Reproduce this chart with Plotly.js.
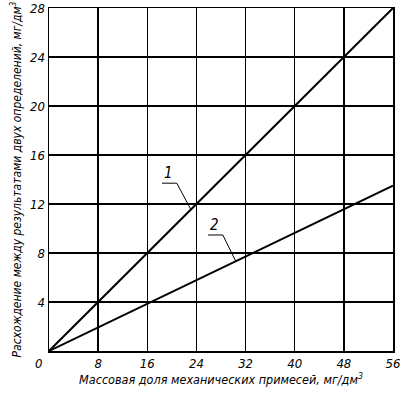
<!DOCTYPE html>
<html><head><meta charset="utf-8">
<script src="https://cdn.plot.ly/plotly-3.0.1.min.js"></script>
<style>html,body{margin:0;padding:0;background:#fff}</style>
</head><body><div id="chart" style="width:412px;height:394px"></div>
<script>
const line1X = [0, 56];
const line1Y = [0, 28];
const line2X = [0, 56];
const line2Y = [0, 13.5];
const xTicks = [8, 16, 24, 32, 40, 48, 56];
const yTicks = [4, 8, 12, 16, 20, 24, 28];
const xTitle = '<i>Массовая доля механических примесей, мг/дм<sup>3</sup></i>';
const yTitle = '<i>Расхождение между результатами двух определений, мг/дм<sup>3</sup></i>';
const labels = ['1', '2'];
const labelX = [19.4, 27.0];
const labelY = [13.7, 9.47];
const leaderX = [[18.4, 20.8, 23.1], [25.9, 28.3, 30.4]];
const leaderY = [[13.7, 13.7, 11.55], [9.47, 9.47, 7.33]];

const F = "'DejaVu Sans Condensed', 'DejaVu Sans', sans-serif";
const font = {family: F, size: 13, color: '#000', style: 'italic'};

const traces = [
  {x: line1X, y: line1Y, mode: 'lines', line: {color: '#000', width: 2}, hoverinfo: 'skip'},
  {x: line2X, y: line2Y, mode: 'lines', line: {color: '#000', width: 2}, hoverinfo: 'skip'}
];
const shapes = leaderX.map((xs, i) => ({
  type: 'path', xref: 'x', yref: 'y',
  path: xs.map((x, j) => (j ? 'L' : 'M') + x + ',' + leaderY[i][j]).join(' '),
  line: {color: '#000', width: 1}
}));
const annotations = labels.map((t, i) => ({
  x: labelX[i], y: labelY[i], xref: 'x', yref: 'y', text: '<i>' + t + '</i>', showarrow: false,
  yanchor: 'bottom', yshift: -1, font: {family: F, size: 15, color: '#000', style: 'italic'}
}));
annotations.push({x: 0, y: 0, xref: 'x', yref: 'y', text: '<i>0</i>', showarrow: false,
  xshift: -11, yshift: -12, font: font});

const axisCommon = {
  showgrid: true, gridcolor: '#000', gridwidth: 1.3,
  showline: true, linecolor: '#000', linewidth: 1.5, mirror: true,
  zeroline: false, ticks: '', tickfont: font, fixedrange: true
};
const layout = {
  width: 412, height: 394,
  margin: {l: 49, r: 19, t: 8, b: 43},
  paper_bgcolor: '#fff', plot_bgcolor: '#fff',
  showlegend: false,
  xaxis: Object.assign({}, axisCommon, {range: [0, 56], tickvals: xTicks, ticktext: xTicks.map(String),
    title: {text: xTitle, font: {family: F, size: 12.5, color: '#000', style: 'italic'}, standoff: 4}}),
  yaxis: Object.assign({}, axisCommon, {range: [0, 28], tickvals: yTicks, ticktext: yTicks.map(String),
    title: {text: yTitle, font: {family: F, size: 12, color: '#000', style: 'italic'}, standoff: 6}}),
  shapes: shapes,
  annotations: annotations
};
Plotly.newPlot('chart', traces, layout, {displayModeBar: false, staticPlot: true});
</script></body></html>
